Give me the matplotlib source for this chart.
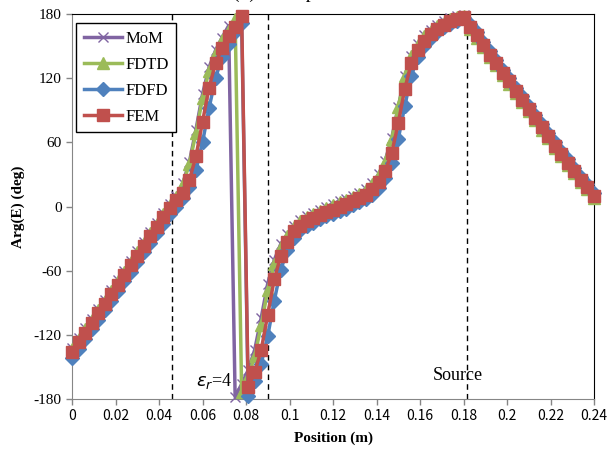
import numpy as np
import matplotlib
matplotlib.use("Agg")
import matplotlib.pyplot as plt

# 위치 (m)
pos = np.linspace(0, 0.24, 81)

mom = [-132, -123, -114, -105, -96, -87, -78, -69, -60, -51, -42, -33, -24, -15, -6,
       2, 10, 22, 42, 72, 105, 130, 146, 158, 169, -178, -166, -153, -134, -104, -72, -50, -35, -26,
       -18, -13, -9, -6, -3, 0, 2, 5, 7, 10, 13, 16, 22, 30, 43, 64, 93, 122, 141, 152, 160, 165,
       170, 173, 176, 178, 179,
       166, 158, 149, 140, 132, 123, 115, 106, 98, 89, 81, 72, 64, 55, 47, 39, 31, 23, 16, 8]
fdtd = [-133, -124, -115, -106, -97, -88, -79, -70, -61, -52, -43, -34, -25, -16, -7,
        1, 9, 21, 40, 69, 101, 127, 144, 156, 165, 175, -173, -159, -140, -111, -78, -54, -38, -28,
        -19, -14, -10, -7, -4, -1, 1, 4, 6, 9, 12, 15, 21, 29, 42, 63, 93, 122, 141, 151, 159, 164,
        169, 172, 175, 177, 178,
        166, 158, 149, 140, 132, 123, 115, 106, 98, 89, 81, 72, 64, 55, 47, 39, 31, 23, 16, 8]
fdfd = [-142, -133, -124, -115, -106, -97, -88, -79, -70, -61, -52, -43, -34, -25, -16,
        -7, 0, 8, 18, 34, 60, 92, 120, 140, 152, 163, 172, -177, -163, -147, -121, -88, -59, -41,
        -29, -22, -18, -15, -12, -9, -7, -4, -2, 1, 4, 7, 11, 17, 27, 41, 63, 94, 122, 140, 150, 158,
        163, 168, 171, 173, 176,
        171, 163, 154, 145, 137, 128, 120, 111, 103, 94, 86, 77, 69, 60, 52, 44, 36, 28, 21, 13]
fem = [-136, -127, -118, -109, -100, -91, -82, -73, -64, -55, -46, -37, -28, -19, -10,
       -1, 6, 13, 25, 47, 79, 111, 134, 148, 159, 168, 178, -169, -155, -134, -101, -68, -46, -33,
       -23, -18, -14, -11, -8, -5, -3, 0, 2, 5, 8, 11, 16, 23, 33, 50, 78, 110, 134, 146, 155, 161,
       166, 170, 173, 175, 177,
       168, 160, 151, 142, 134, 125, 117, 108, 100, 91, 83, 74, 66, 57, 49, 41, 33, 25, 18, 10]

boundaries = [0.046, 0.09, 0.1815]
xticks = [0, 0.02, 0.04, 0.06, 0.08, 0.1, 0.12, 0.14, 0.16, 0.18, 0.2, 0.22, 0.24]
xlabels = ["0", "0.02", "0.04", "0.06", "0.08", "0.1", "0.12", "0.14", "0.16", "0.18", "0.2", "0.22", "0.24"]
yticks = [-180, -120, -60, 0, 60, 120, 180]

plt.rcParams["font.family"] = "Liberation Serif"

fig = plt.figure(figsize=(6.11, 4.57), dpi=100)
ax = fig.add_axes([72 / 611, 1 - 399 / 457, 522 / 611, 385 / 457])

ax.plot(pos, mom, color="#8064A2", lw=2.5, marker="x", ms=7.5, mew=1.0, label="MoM", clip_on=False, zorder=3)
ax.plot(pos, fdtd, color="#9BBB59", lw=2.5, marker="^", ms=9, label="FDTD", clip_on=False, zorder=4)
ax.plot(pos, fdfd, color="#4F81BD", lw=2.5, marker="D", ms=7, label="FDFD", clip_on=False, zorder=5)
ax.plot(pos, fem, color="#C0504D", lw=2.5, marker="s", ms=8.5, label="FEM", clip_on=False, zorder=6)

for b in boundaries:
    ax.axvline(b, color="black", lw=1, ls=(0, (4, 3)), zorder=2)

ax.set_xlim(0, 0.24)
ax.set_ylim(-180, 180)
ax.set_xticks(xticks)
ax.set_xticklabels(xlabels, family="Noto Sans CJK JP", fontsize=10)
ax.set_yticks(yticks)
ax.set_yticklabels([str(v) for v in yticks], fontsize=11)
ax.tick_params(direction="out", length=4, color="#868686", width=1)

for s in ["left", "bottom"]:
    ax.spines[s].set_color("#868686")
for s in ["top", "right"]:
    ax.spines[s].set_color("black")

ax.set_xlabel("Position (m)", fontsize=11, fontweight="bold", labelpad=6)
ax.set_ylabel("Arg(E) (deg)", fontsize=11, fontweight="bold", labelpad=6)

ax.text(0.0735, -163, r"$\varepsilon_r$=4", fontsize=13, ha="right", va="center", zorder=8)
ax.text(0.1775, -158, "Source", fontsize=13, ha="center", va="center", zorder=8)

fig.text(233 / 611, 1 + 2 / 457, "(b) Field phase", fontsize=14, ha="left", va="baseline")

leg = ax.legend(loc="upper left", bbox_to_anchor=(0.008, 0.976), borderaxespad=0,
                fontsize=12, handlelength=2.3, handletextpad=0.2, labelspacing=0.6,
                fancybox=False, framealpha=1, edgecolor="black", borderpad=0.45)
leg.get_frame().set_linewidth(1)
leg.set_zorder(10)

fig.savefig("out.png", dpi=100)
